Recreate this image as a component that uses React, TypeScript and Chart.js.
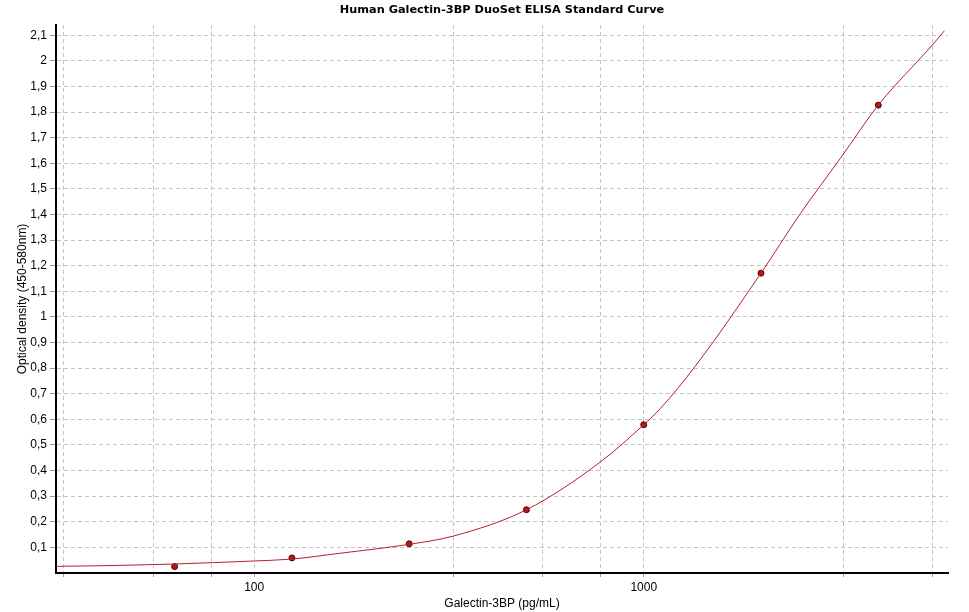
import React, { useEffect, useRef } from 'react';
import { Chart, registerables } from 'chart.js';

Chart.register(...registerables);

const chartTitle = 'Human Galectin-3BP DuoSet ELISA Standard Curve';
const xAxisTitle = 'Galectin-3BP (pg/mL)';
const yAxisTitle = 'Optical density (450-580nm)';

// measured standards
const standardConc = [62.5, 125, 250, 500, 1000, 2000, 4000];
const standardOD = [0.025, 0.059, 0.114, 0.247, 0.579, 1.171, 1.827];

// fitted curve
const curveConc = [31, 39, 62, 100, 124, 166, 250, 324, 500, 773, 1000, 1104, 1352, 2000, 2525, 3196, 4000, 5500, 5911];
const curveOD = [0.026, 0.028, 0.035, 0.047, 0.054, 0.077, 0.112, 0.144, 0.247, 0.433, 0.579, 0.643, 0.805, 1.171, 1.404, 1.619, 1.827, 2.061, 2.117];

// axes
const xMin = 31;
const xMax = 6040;
const xGridValues = [32.5, 55, 77.5, 100, 325, 550, 775, 1000, 3250, 5500];
const xLabelValues = [100, 1000];
const yMin = 0;
const yMax = 2.14;
const yTickValues = [0.1, 0.2, 0.3, 0.4, 0.5, 0.6, 0.7, 0.8, 0.9, 1, 1.1, 1.2, 1.3, 1.4, 1.5, 1.6, 1.7, 1.8, 1.9, 2, 2.1];

const tickFont = { family: "'Liberation Sans', Arial, sans-serif", size: 12 };

const fmtComma = (v: number) => (Number.isInteger(v) ? String(v) : v.toFixed(1).replace('.', ','));

// title centred over the plot area rather than the canvas
const plotTitle = {
  id: 'plotTitle',
  afterDraw(chart: any) {
    const { ctx, chartArea } = chart;
    ctx.save();
    ctx.font = "bold 11.3px 'DejaVu Sans', Tahoma, sans-serif";
    ctx.fillStyle = '#000';
    ctx.textAlign = 'center';
    ctx.textBaseline = 'middle';
    ctx.fillText(chartTitle, (chartArea.left + chartArea.right) / 2, 10);
    ctx.restore();
  },
};

const App: React.FC = () => {
  const canvasRef = useRef<HTMLCanvasElement>(null);

  useEffect(() => {
    document.body.style.margin = '0';
    if (!canvasRef.current) return;

    const chart = new Chart(canvasRef.current, {
      type: 'scatter',
      data: {
        datasets: [
          {
            label: 'Fit',
            data: curveConc.map((c, i) => ({ x: c, y: curveOD[i] })),
            showLine: true,
            borderColor: '#b0232a',
            borderWidth: 1,
            pointRadius: 0,
            cubicInterpolationMode: 'monotone',
          },
          {
            label: 'Standards',
            data: standardConc.map((c, i) => ({ x: c, y: standardOD[i] })),
            showLine: false,
            pointRadius: 3,
            pointBackgroundColor: '#a8181c',
            pointBorderColor: '#5c0000',
            pointBorderWidth: 1,
          },
        ],
      },
      options: {
        responsive: false,
        animation: false,
        layout: { padding: { left: 0, right: 21, top: 25, bottom: 0 } },
        plugins: {
          legend: { display: false },
          tooltip: { enabled: false },
          title: { display: false },
        },
        scales: {
          x: {
            type: 'logarithmic',
            min: xMin,
            max: xMax,
            afterBuildTicks: (scale: any) => {
              scale.ticks = xGridValues.map((v) => ({ value: v }));
            },
            afterFit: (scale: any) => {
              scale.height = 39;
            },
            ticks: {
              autoSkip: false,
              maxRotation: 0,
              color: '#000',
              font: tickFont,
              padding: 3,
              callback: (value: any) => (xLabelValues.includes(Number(value)) ? String(value) : ''),
            },
            grid: {
              color: '#c4c4c4',
              tickLength: 4,
              tickColor: '#9a9a9a',
              tickBorderDash: [],
            },
            border: { display: true, color: '#000', width: 2, dash: [4, 3] },
            title: {
              display: true,
              text: xAxisTitle,
              color: '#000',
              font: tickFont,
              padding: { top: 0, bottom: 1 },
            },
          },
          y: {
            type: 'linear',
            min: yMin,
            max: yMax,
            afterBuildTicks: (scale: any) => {
              scale.ticks = yTickValues.map((v) => ({ value: v }));
            },
            afterFit: (scale: any) => {
              scale.width = 56;
            },
            ticks: {
              autoSkip: false,
              color: '#000',
              font: tickFont,
              padding: 3,
              callback: (value: any) => fmtComma(Number(value)),
            },
            grid: {
              color: '#c4c4c4',
              tickLength: 6,
              tickColor: '#9a9a9a',
              tickBorderDash: [],
            },
            border: { display: true, color: '#000', width: 2, dash: [4, 3] },
            title: {
              display: true,
              text: yAxisTitle,
              color: '#000',
              font: tickFont,
              padding: { top: 15, bottom: 0 },
            },
          },
        },
      },
      plugins: [plotTitle],
    } as any);

    return () => {
      chart.destroy();
    };
  }, []);

  return (
    <div style={{ width: 969, height: 612, background: '#fff' }}>
      <canvas ref={canvasRef} width={969} height={612} style={{ display: 'block' }}></canvas>
    </div>
  );
};

export default App;
